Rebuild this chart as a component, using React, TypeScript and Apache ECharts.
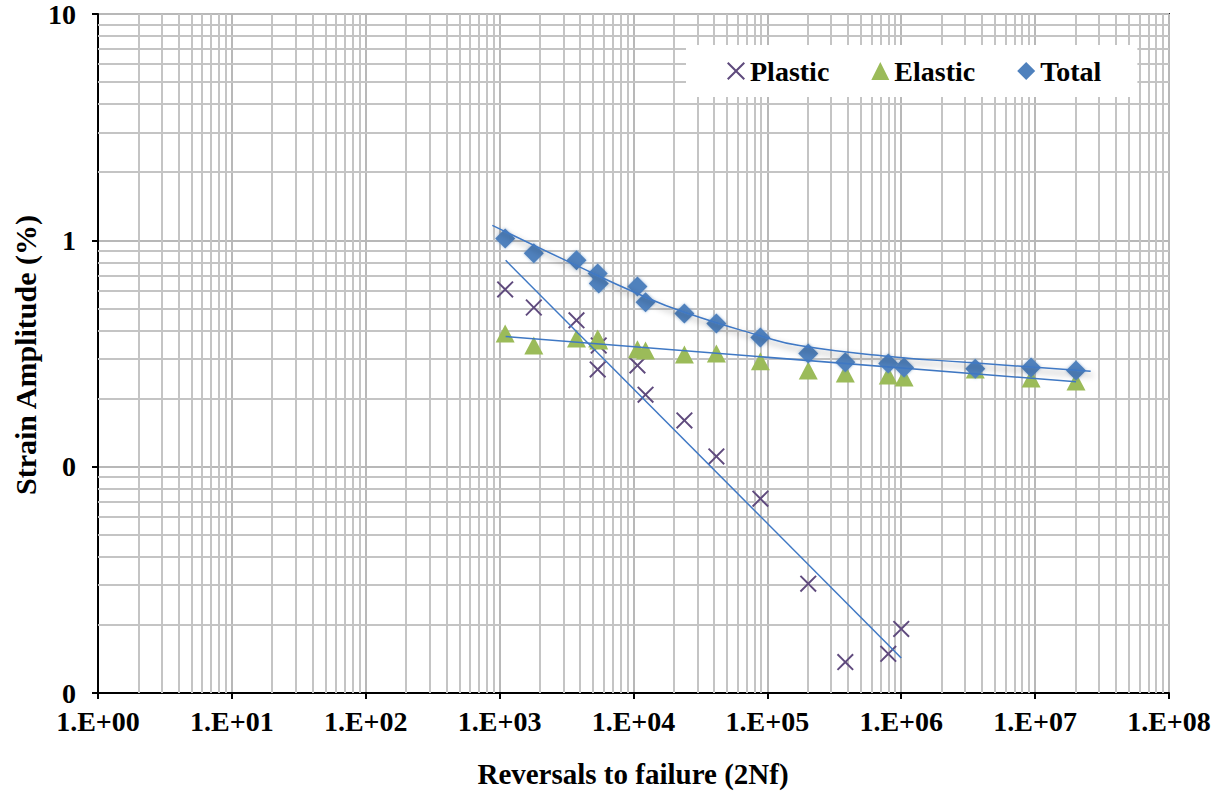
import React, { useEffect, useRef } from "react";
import * as echarts from "echarts";

// Reversals to failure (2Nf) for each specimen
const lifeTotal = [1100, 1800, 3750, 5400, 5500, 10700, 12300, 24000, 41600, 88700, 202000, 382000, 800000, 1050000, 3570000, 9330000, 20200000];
// Strain amplitudes (%)
const totalStrain = [1.02, 0.876, 0.816, 0.714, 0.645, 0.626, 0.532, 0.475, 0.429, 0.372, 0.316, 0.289, 0.286, 0.274, 0.271, 0.274, 0.266];
const elasticStrain = [0.388, 0.343, 0.368, 0.368, 0.361, 0.33, 0.326, 0.313, 0.316, 0.292, 0.266, 0.258, 0.253, 0.248, 0.269, 0.245, 0.238];
const lifePlastic = [1100, 1800, 3750, 5500, 5400, 10700, 12300, 24000, 41600, 88700, 202000, 382000, 800000, 1000000];
const plasticStrain = [0.607, 0.505, 0.443, 0.343, 0.269, 0.28, 0.208, 0.16, 0.111, 0.0722, 0.0304, 0.0137, 0.0149, 0.0192];

// Trend lines
const plasticTrendX = [1109, 1000000];
const plasticTrendY = [0.816, 0.01428];
const elasticTrendX = [1109, 20200000];
const elasticTrendY = [0.376, 0.237];
const totalTrendX = [882, 3736, 10770, 23740, 87150, 173300, 813600, 3040000, 26000000];
const totalTrendY = [1.165, 0.775, 0.581, 0.482, 0.38, 0.343, 0.307, 0.289, 0.264];

const xTitle = "Reversals to failure (2Nf)";
const yTitle = "Strain Amplitude (%)";

const FONT = "'Liberation Serif', 'Times New Roman', serif";
const CROSS = "path://M0.8,0 L5,4.2 L9.2,0 L10,0.8 L5.8,5 L10,9.2 L9.2,10 L5,5.8 L0.8,10 L0,9.2 L4.2,5 L0,0.8 Z";

function minorTicks(fromExp: number, toExp: number): number[] {
  const out: number[] = [];
  for (let k = fromExp; k < toExp; k++) {
    for (let m = 2; m <= 9; m++) out.push(m * Math.pow(10, k));
  }
  return out;
}

const zip = (xs: number[], ys: number[]) => xs.map((x, i) => [x, ys[i]]);

export default function App() {
  const ref = useRef<HTMLDivElement>(null);
  useEffect(() => {
    const chart = echarts.init(ref.current!, null, { renderer: "svg" });
    const axisText = { fontFamily: FONT, fontWeight: "bold" as const, fontSize: 28, color: "#000" };
    const option = {
      animation: false,
      backgroundColor: "#fff",
      grid: { left: 98, right: 58, top: 14, bottom: 100, show: true, borderColor: "#222", borderWidth: 2, backgroundColor: "transparent" },
      xAxis: {
        type: "log",
        logBase: 10,
        min: 1,
        max: 1e8,
        splitNumber: 8,
        axisLine: { show: true, onZero: false, lineStyle: { color: "#000", width: 2 } },
        axisTick: { show: true, length: 6, lineStyle: { color: "#000", width: 2 } },
        axisLabel: {
          ...axisText,
          lineHeight: 24,
          margin: 16,
          formatter: (v: number) => "1.E+" + String(Math.round(Math.log10(v))).padStart(2, "0"),
        },
        splitLine: { show: true, lineStyle: { color: "#b8b8b8", width: 2 } },
      },
      yAxis: {
        type: "log",
        logBase: 10,
        min: 0.01,
        max: 10,
        splitNumber: 3,
        axisLine: { show: true, onZero: false, lineStyle: { color: "#000", width: 2 } },
        axisTick: { show: true, length: 6, lineStyle: { color: "#000", width: 2 } },
        axisLabel: {
          ...axisText,
          lineHeight: 22,
          margin: 22,
          formatter: (v: number) => (v >= 1 ? String(Math.round(v)) : "0"),
        },
        splitLine: { show: true, lineStyle: { color: "#b8b8b8", width: 2 } },
      },
      legend: {
        data: [
          { name: "Plastic", icon: CROSS },
          { name: "Elastic", icon: "triangle" },
          { name: "Total", icon: "diamond" },
        ],
        left: 686,
        top: 45,
        z: 10,
        orient: "horizontal",
        itemWidth: 18,
        itemHeight: 18,
        itemGap: 42,
        padding: [12, 36, 12, 41],
        backgroundColor: "#fff",
        selectedMode: false,
        textStyle: { ...axisText },
      },
      graphic: [
        {
          type: "text",
          x: 25,
          y: 355,
          rotation: Math.PI / 2,
          style: { text: yTitle, fill: "#000", font: `bold 30px ${FONT}`, align: "center", verticalAlign: "middle" },
        },
        {
          type: "text",
          x: 633,
          y: 774,
          style: { text: xTitle, fill: "#000", font: `bold 29px ${FONT}`, align: "center", verticalAlign: "middle" },
        },
      ],
      series: [
        {
          name: "grid",
          type: "line",
          data: [],
          silent: true,
          z: 1,
          markLine: {
            z: 1,
            silent: true,
            symbol: ["none", "none"],
            label: { show: false },
            lineStyle: { color: "#c4c4c4", width: 2, type: "solid" },
            emphasis: { disabled: true },
            data: [
              ...minorTicks(0, 8).map((v) => ({ xAxis: v })),
              ...minorTicks(-2, 1).map((v) => ({ yAxis: v })),
            ],
          },
        },
        {
          name: "Plastic",
          type: "scatter",
          symbol: CROSS,
          symbolSize: 17,
          itemStyle: { color: "#5f4a7d", opacity: 1 },
          data: zip(lifePlastic, plasticStrain),
          z: 3,
        },
        {
          name: "Elastic",
          type: "scatter",
          symbol: "triangle",
          symbolSize: [19, 18],
          itemStyle: { color: "#9bbb59", opacity: 1 },
          data: zip(lifeTotal, elasticStrain),
          z: 3,
        },
        {
          name: "Total",
          type: "scatter",
          symbol: "diamond",
          symbolSize: 20,
          itemStyle: { color: "#4f81bd", opacity: 1, shadowColor: "rgba(79,129,189,0.6)", shadowBlur: 3 },
          data: zip(lifeTotal, totalStrain),
          z: 4,
        },
        {
          name: "plasticTrend",
          type: "line",
          showSymbol: false,
          symbol: "none",
          lineStyle: { color: "#3f78c4", width: 1.5 },
          data: zip(plasticTrendX, plasticTrendY),
          z: 5,
        },
        {
          name: "elasticTrend",
          type: "line",
          showSymbol: false,
          symbol: "none",
          lineStyle: { color: "#3f78c4", width: 1.5 },
          data: zip(elasticTrendX, elasticTrendY),
          z: 5,
        },
        {
          name: "totalTrend",
          type: "line",
          showSymbol: false,
          symbol: "none",
          smooth: 0.5,
          lineStyle: {
            color: "#3f78c4",
            width: 1.5,
            shadowColor: "rgba(0,0,0,0.45)",
            shadowBlur: 6,
            shadowOffsetX: 2,
            shadowOffsetY: 4,
          },
          data: zip(totalTrendX, totalTrendY),
          z: 5,
        },
      ],
    };
    chart.setOption(option as any);
    return () => chart.dispose();
  }, []);
  return (
    <div
      ref={ref}
      style={{ position: "fixed", left: 0, top: 0, width: 1227, height: 793, background: "#fff" }}
    />
  );
}
